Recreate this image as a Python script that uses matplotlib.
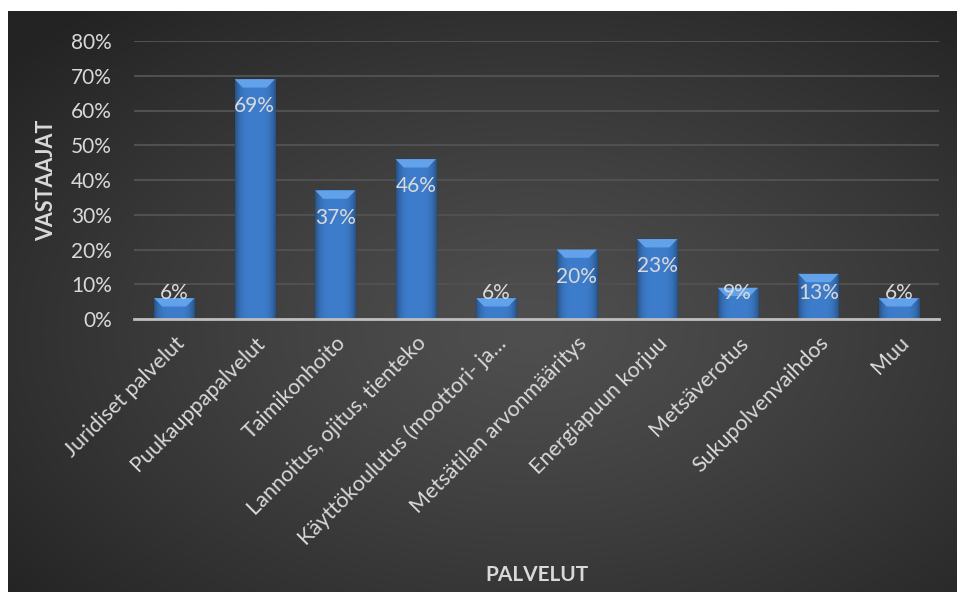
import numpy as np
import matplotlib
matplotlib.use('Agg')
import matplotlib.pyplot as plt
from matplotlib.patches import Polygon

# data
palvelut = ['Juridiset palvelut', 'Puukauppapalvelut', 'Taimikonhoito',
            'Lannoitus, ojitus, tienteko', 'Käyttökoulutus (moottori- ja…',
            'Metsätilan arvonmääritys', 'Energiapuun korjuu', 'Metsäverotus',
            'Sukupolvenvaihdos', 'Muu']
osuus = [0.06, 0.69, 0.37, 0.46, 0.06, 0.20, 0.23, 0.09, 0.13, 0.06]
y_ticks = [0.0, 0.1, 0.2, 0.3, 0.4, 0.5, 0.6, 0.7, 0.8]

plt.rcParams['font.family'] = ['Lato', 'DejaVu Sans']
txt_col = '#d9d9d9'

W, H = 959, 596
fig = plt.figure(figsize=(W / 100, H / 100), dpi=100)
fig.patch.set_facecolor('white')

# dark radial background of the chart area
bg = fig.add_axes([8 / W, 4 / H, (957 - 8) / W, 581 / H])
yy, xx = np.mgrid[0:300, 0:480]
cx, cy = 265, 165
r = np.sqrt(((xx - cx) / 480.0) ** 2 + ((yy - cy) / 300.0) ** 2)
r = np.clip(r / 0.72, 0, 1)
shade = 0.31 - 0.17 * r ** 1.2
bg.imshow(np.dstack([shade, shade, shade]), aspect='auto', extent=[0, 1, 0, 1])
bg.set_axis_off()

ax = fig.add_axes([134 / W, 1 - 319 / H, (939 - 134) / W, (319 - 41) / H])
ax.set_facecolor('none')
x = np.arange(len(palvelut))
bars = ax.bar(x, osuus, width=0.5, color='#3b78c6', edgecolor='#1a3866',
              linewidth=0.9, zorder=3)

# shading on each bar (darker at the sides, lighter bevel at the top)
grad = np.linspace(-1, 1, 64)
g = 1 - 0.35 * grad ** 4
base = np.array([0.24, 0.49, 0.80])
img = np.clip(base[None, None, :] * g[None, :, None], 0, 1)
for b in bars:
    bx, bw, bh = b.get_x(), b.get_width(), b.get_height()
    im = ax.imshow(img, aspect='auto', extent=[bx, bx + bw, 0, bh], zorder=3.5)
    im.set_clip_path(b)
    bev_h = 0.024
    bev_w = 0.1
    ax.add_patch(Polygon([[bx, bh], [bx + bw, bh], [bx + bw - bev_w, bh - bev_h],
                          [bx + bev_w, bh - bev_h]], closed=True,
                         facecolor='#62a2ea', edgecolor='none', zorder=3.6))

for xi, v in zip(x, osuus):
    ly = max(v - 0.078, 0.075)
    ax.text(xi, ly, f'{v * 100:.0f}%', ha='center', va='center',
            color=txt_col, fontsize=15, zorder=5)

ax.set_xlim(-0.5, len(palvelut) - 0.5)
ax.set_ylim(0, 0.8)
ax.set_yticks(y_ticks)
ax.set_yticklabels([f'{t * 100:.0f}%' for t in y_ticks])
ax.set_xticks(x)
ax.set_xticklabels(palvelut, rotation=45, ha='right', rotation_mode='anchor')
ax.tick_params(axis='y', length=0, pad=16, labelsize=15, labelcolor=txt_col)
ax.tick_params(axis='x', length=0, pad=10, labelsize=15.5, labelcolor=txt_col)
ax.grid(axis='y', color='#505050', linewidth=1.5, zorder=0)
for s in ['top', 'right', 'left']:
    ax.spines[s].set_visible(False)
ax.spines['bottom'].set_color('#bfbfbf')
ax.spines['bottom'].set_linewidth(2)
ax.spines['bottom'].set_zorder(4)

fig.text(47 / W, 1 - 180 / H, 'VASTAAJAT', rotation=90, ha='center',
         va='center', fontsize=15.5, fontweight='bold', color=txt_col)
fig.text(537 / W, 1 - 575 / H, 'PALVELUT', ha='center', va='center',
         fontsize=15, fontweight='bold', color=txt_col)

fig.savefig('out.png', dpi=100, facecolor=fig.get_facecolor())
